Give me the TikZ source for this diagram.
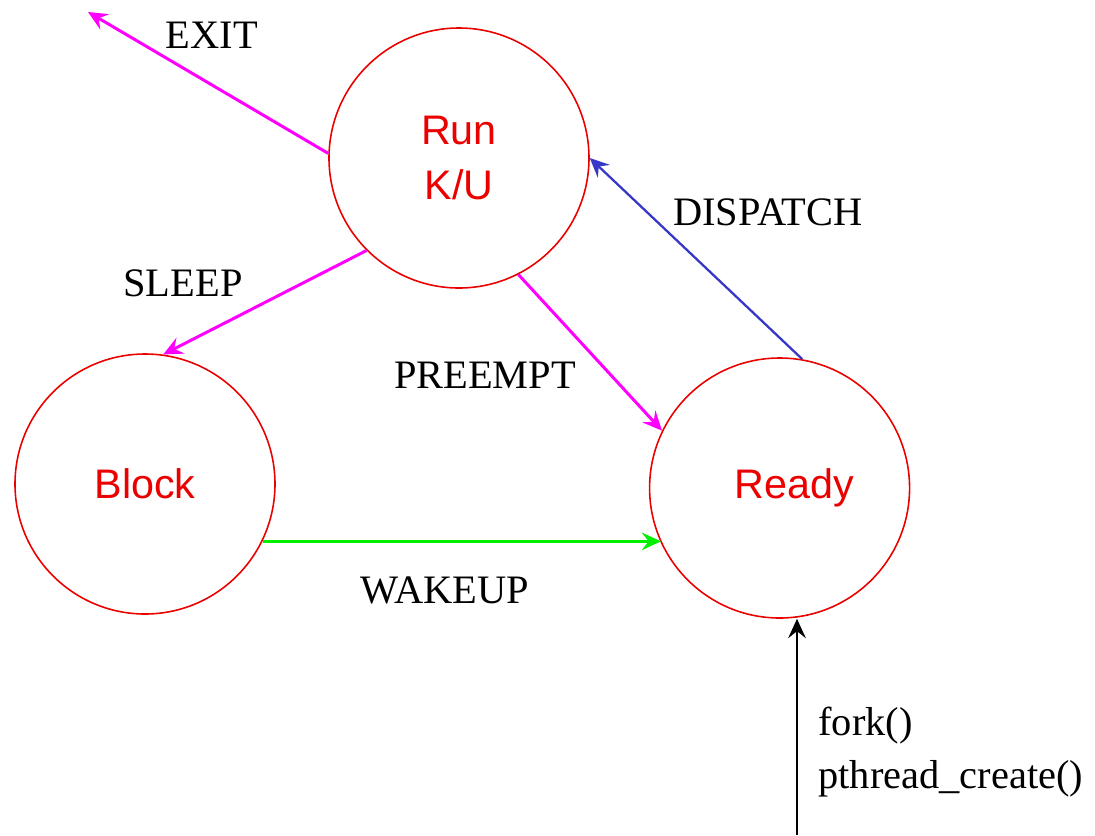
\documentclass[tikz,border=0pt]{standalone}
\usepackage{fontspec}
\setmainfont{Liberation Serif}
\newfontfamily\statefont{Liberation Sans}
\usepackage{tikz}
\usetikzlibrary{arrows.meta, positioning, calc}
\usepackage{xcolor}
\definecolor{exitmag}{RGB}{255,0,255}
\definecolor{dispblue}{RGB}{55,55,200}
\definecolor{wakegreen}{RGB}{0,240,0}
\definecolor{statered}{RGB}{235,0,0}

\begin{document}
\begin{tikzpicture}[
    state/.style={circle, draw=statered, line width=0.9pt, minimum size=5.2cm, inner sep=0pt, align=center, text=statered, font=\statefont\fontsize{23.5}{31}\selectfont},
    lbl/.style={font=\fontsize{23}{30}\selectfont, inner sep=0pt},
    arrow/.style={-{Stealth[length=11pt, width=10pt, inset=4pt]}, line width=1.7pt}
]
\useasboundingbox (0,0) rectangle (21.9,-16.7);
\node[state] (block) at (2.9,-9.68) {Block};
\node[state, right=7.46cm of block, yshift=-0.08cm] (ready) {\hspace*{0.6cm}Ready};
\node[state] (run) at (9.18,-3.16) {Run\\K/U};
\coordinate (gone) at (1.76,-0.24);
\coordinate (born) at (15.94,-16.7);

\draw[arrow, exitmag] (run.178) -- (gone);
\draw[arrow, dispblue, line width=1.3pt] (ready.80) -- (run.0);
\draw[arrow, exitmag] (run.225) -- (block.82);
\draw[arrow, exitmag] (run.297) -- (ready.154);
\draw[arrow, wakegreen] (block.334) -- (block.334 -| ready.205);
\draw[arrow, black, line width=1.4pt] (born) -- (born |- ready.south);

\node[lbl] (exit) at (4.24,-0.7) {EXIT};
\node[lbl] (dispatch) at (15.36,-4.24) {DISPATCH};
\node[lbl] (sleep) at (3.66,-5.66) {SLEEP};
\node[lbl] (preempt) at (9.7,-7.5) {PREEMPT};
\node[lbl] (wakeup) at (8.9,-11.8) {WAKEUP};
\node[lbl, anchor=west, align=left] (fork) at (16.36,-15.04) {fork()\\pthread\_create()};
\end{tikzpicture}
\end{document}
